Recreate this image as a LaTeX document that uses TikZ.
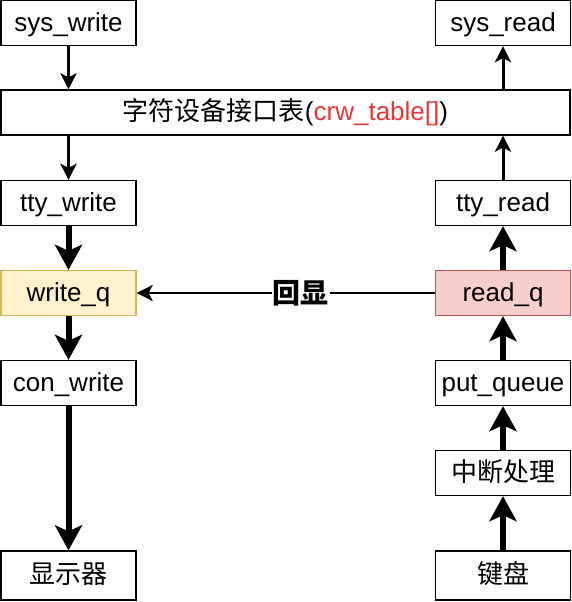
\documentclass[tikz,border=0pt]{standalone}
\usepackage{fontspec}
\setmainfont{Liberation Sans}
\newfontfamily\cjk{Noto Sans CJK SC}
\usetikzlibrary{arrows.meta}
\definecolor{tblred}{RGB}{229,57,53}
\definecolor{yelfill}{HTML}{FFF2CC}
\definecolor{yeldraw}{HTML}{D6B656}
\definecolor{redfill}{HTML}{F8CECC}
\definecolor{reddraw}{HTML}{B85450}
\tikzset{
  box/.style={draw=black, line width=1.3pt, fill=white, rectangle, minimum width=135pt, minimum height=45pt, inner sep=0pt, text height=19pt, text depth=2.5pt, font=\fontsize{26}{30}\selectfont},
  thin arrow/.style={line width=3pt, -{Stealth[length=16pt,width=16pt,inset=4pt]}},
  thick arrow/.style={line width=6pt, -{Stealth[length=25pt,width=27pt,inset=6pt]}},
}
\begin{document}
\begin{tikzpicture}[x=1pt,y=-1pt]
\useasboundingbox (0,0) rectangle (572,602);
\node[box] (sw) at (68.5,23) {sys\_write};
\node[box] (sr) at (503,23) {sys\_read};
\node[box, minimum width=569pt] (tbl) at (285.5,112.5) {{\cjk 字符设备接口表}(\textcolor{tblred}{crw\_table[]})};
\node[box] (tw) at (68.5,203) {tty\_write};
\node[box] (tr) at (503,203) {tty\_read};
\node[box, fill=yelfill, draw=yeldraw] (wq) at (68.5,293) {write\_q};
\node[box, fill=redfill, draw=reddraw] (rq) at (503,293) {read\_q};
\node[box] (cw) at (68.5,383) {con\_write};
\node[box] (pq) at (503,383) {put\_queue};
\node[box] (irq) at (503,473) {\cjk 中断处理};
\node[box, minimum height=49pt] (disp) at (68.5,575.5) {\cjk 显示器};
\node[box, minimum height=49pt] (kb) at (503,575.5) {\cjk 键盘};
\draw[thin arrow] (sw) -- (sw |- tbl.north);
\draw[thin arrow] (tw |- tbl.south) -- (tw);
\draw[thin arrow] (sr |- tbl.north) -- (sr);
\draw[thin arrow] (tr) -- (tr |- tbl.south);
\draw[thick arrow] (tw) -- (wq);
\draw[thick arrow] (wq) -- (cw);
\draw[thick arrow] (cw) -- (disp);
\draw[thick arrow] (kb) -- (irq);
\draw[thick arrow] (irq) -- (pq);
\draw[thick arrow] (pq) -- (rq);
\draw[thick arrow] (rq) -- (tr);
\draw[line width=2.6pt, -{Stealth[length=16pt,width=16pt,inset=4pt]}] (rq) -- node[pos=0.45, fill=white, inner sep=1pt, font=\cjk\bfseries\fontsize{28}{32}\selectfont] (echo) {回显} (wq);
\end{tikzpicture}
\end{document}
